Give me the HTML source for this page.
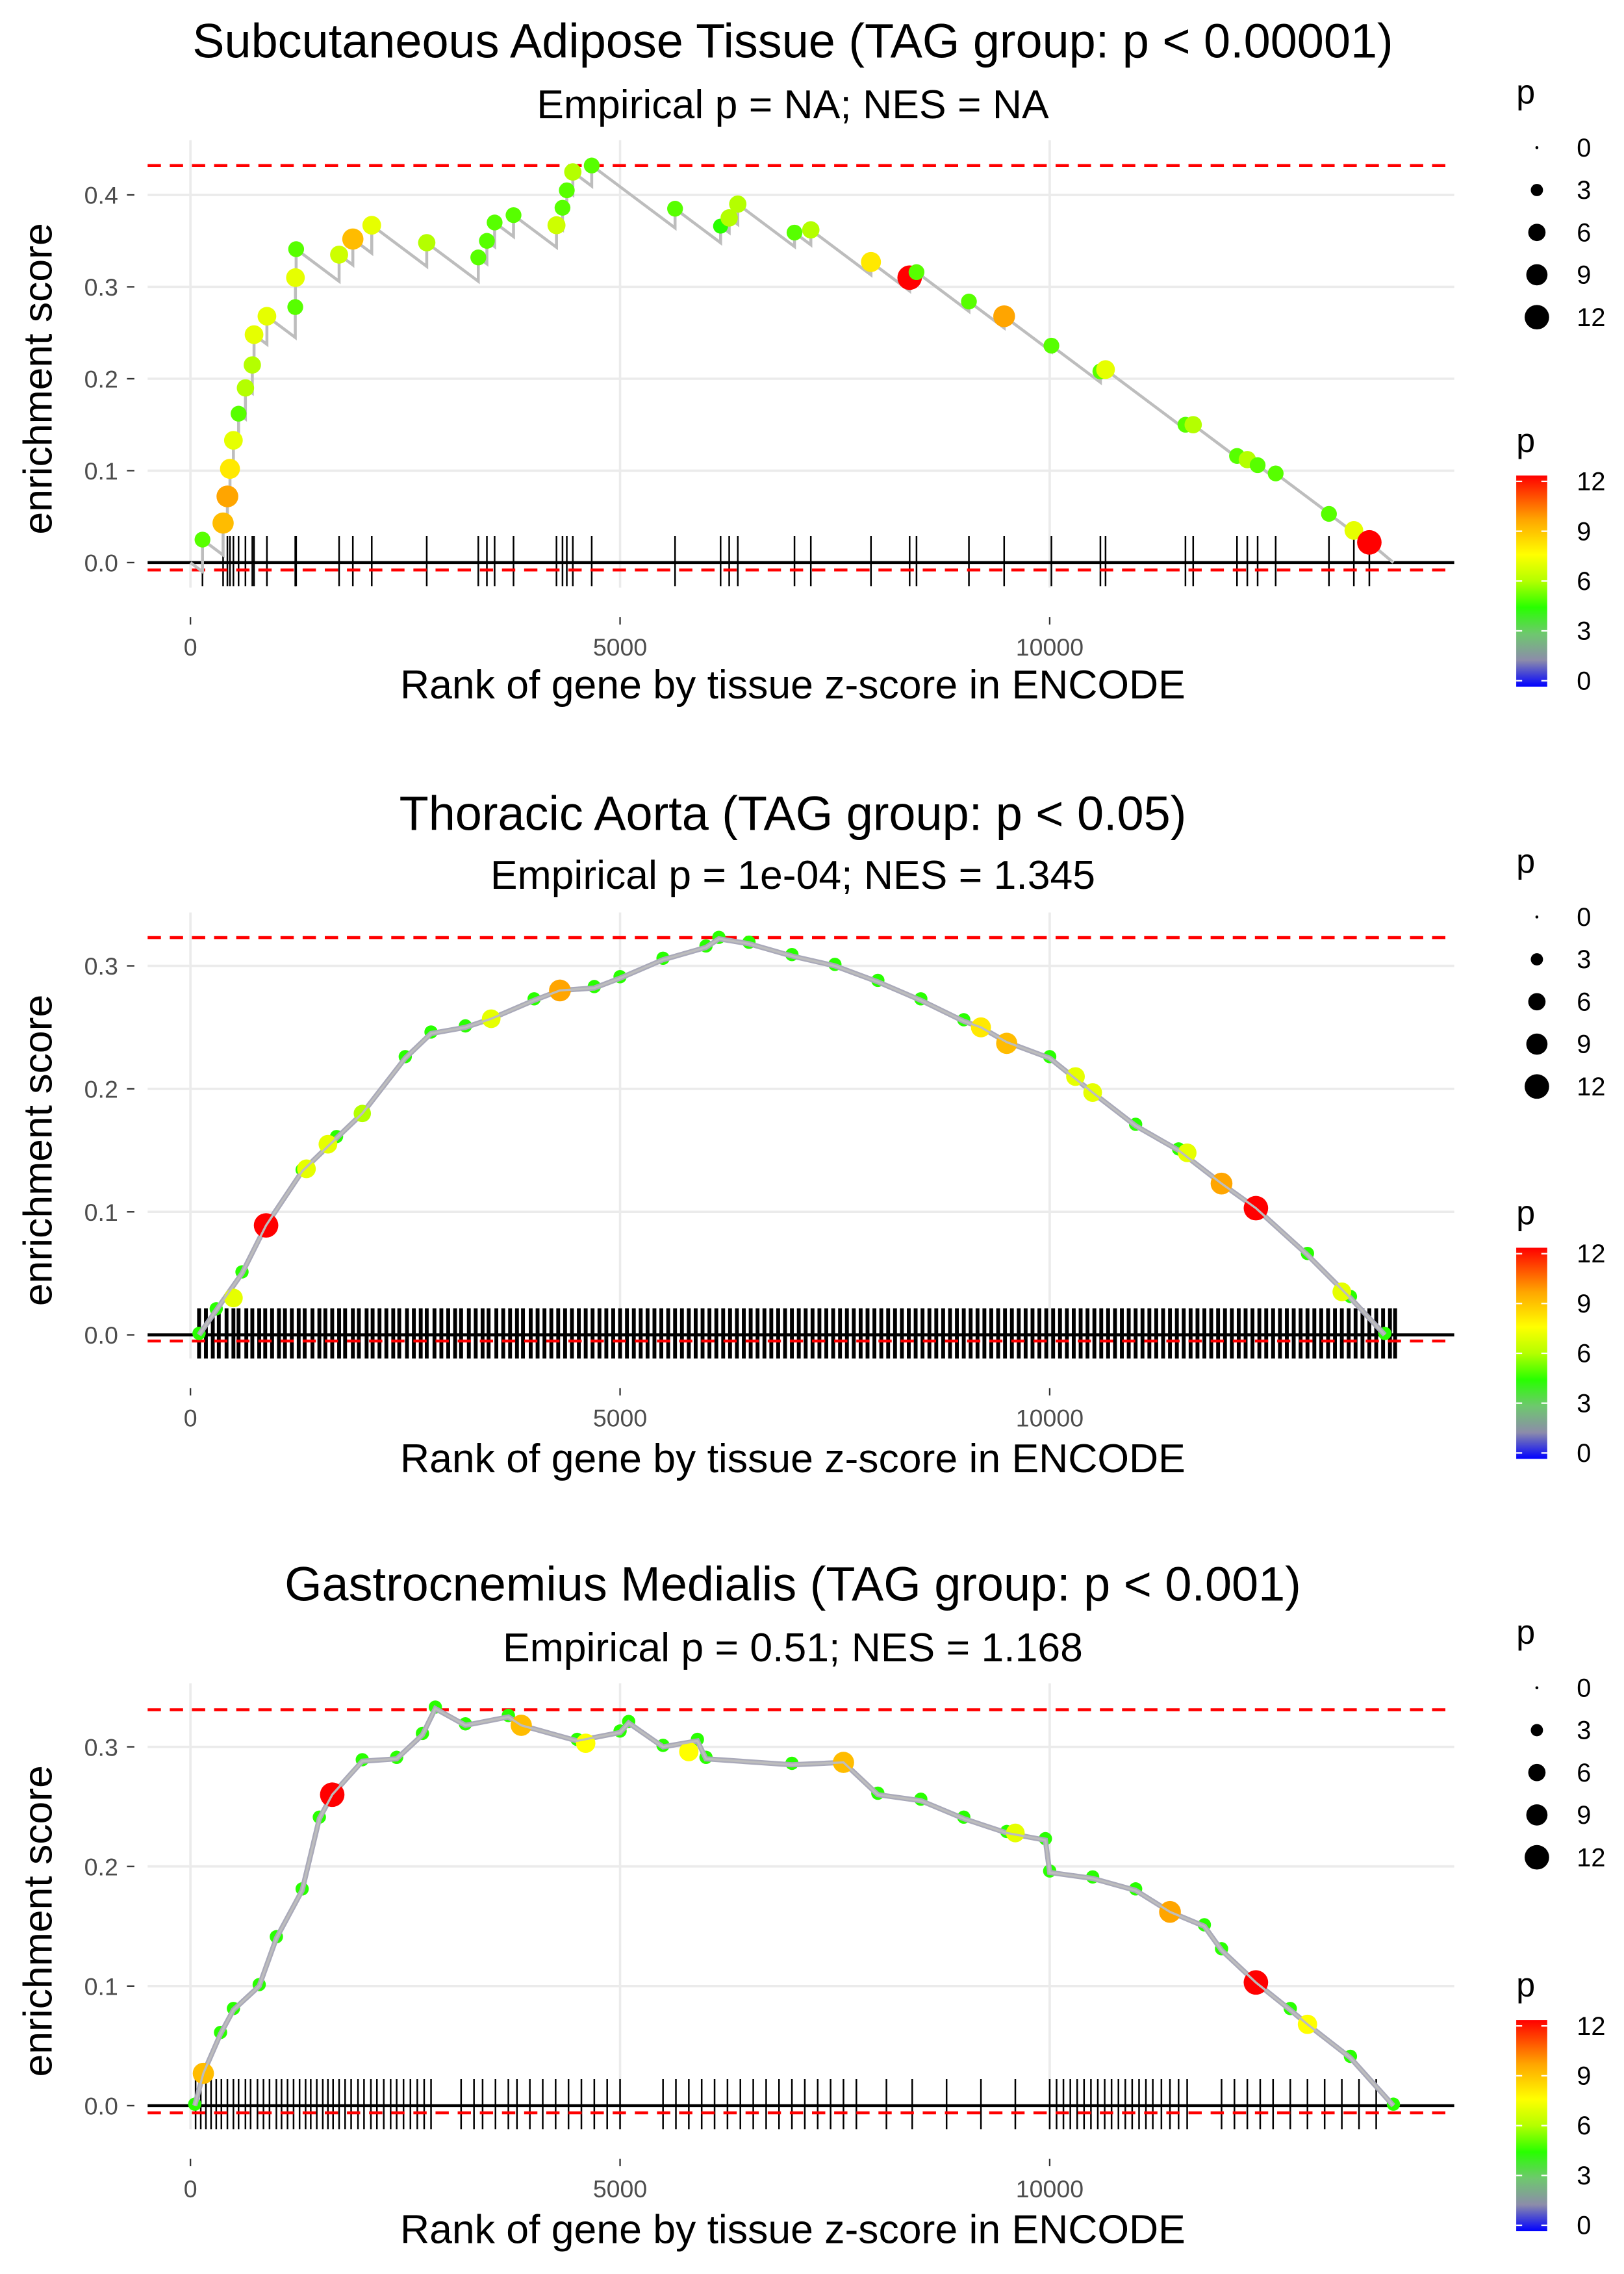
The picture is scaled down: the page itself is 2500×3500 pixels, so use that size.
<!DOCTYPE html>
<html><head><meta charset="utf-8"><style>
html,body{margin:0;padding:0;background:#fff;}
svg{display:block;font-family:"Liberation Sans",sans-serif;}
</style></head><body>
<svg id="chart" width="2500" height="3500" viewBox="0 0 1100 1540" preserveAspectRatio="none" xmlns="http://www.w3.org/2000/svg"></svg>
<script>
// ---------- Panel 1 data ----------
const p1Ranks=[140,380,430,460,500,560,640,720,740,890,1220,1222,1230,1730,1890,2110,2750,3350,3450,3540,3760,4260,4330,4380,4450,4670,5640,6170,6270,6370,7030,7220,7920,8370,8450,9060,9470,10020,10590,10650,11580,11670,12180,12300,12420,12630,13250,13540,13720];
const p1ES=[0.025,0.043,0.072,0.102,0.133,0.162,0.19,0.215,0.248,0.268,0.278,0.31,0.341,0.335,0.352,0.367,0.348,0.332,0.35,0.37,0.378,0.367,0.386,0.405,0.425,0.432,0.385,0.366,0.375,0.39,0.359,0.362,0.327,0.31,0.316,0.284,0.268,0.236,0.208,0.21,0.15,0.15,0.116,0.112,0.106,0.097,0.053,0.035,0.022];
const p1P=[5,9,9.5,8,7,5,6,6,7,7,5,7,5,6.5,9,7,6,5,5,5,5,6.5,5,5,6,5,5,4.5,6,6,5,6,8,12,5,5,9.5,5,5,7,5,6,5,6,5,5,5,7,12];
// ---------- Panel 2 data ----------
const p2CurveRanks=[100,300,600,880,1300,1700,2000,2500,2800,3200,3500,4000,4300,4700,5000,5500,6000,6150,6500,7000,7500,8000,8500,9000,9200,9500,10000,10500,11000,11500,12000,12400,13000,13500,13900];
const p2CurveES=[0.0,0.02,0.05,0.089,0.133,0.16,0.18,0.225,0.245,0.25,0.257,0.272,0.28,0.282,0.29,0.305,0.315,0.322,0.318,0.308,0.3,0.287,0.272,0.255,0.25,0.238,0.225,0.197,0.17,0.15,0.123,0.103,0.065,0.03,0.0];
const p2PointRanks=[500,880,1350,1600,2000,3500,4300,9200,9500,10300,10500,11600,12000,12400,13400];
const p2PointES=[0.03,0.089,0.135,0.155,0.18,0.257,0.28,0.25,0.237,0.21,0.197,0.148,0.123,0.103,0.035];
const p2PointP=[7,12,7,7,6,7,9.5,8,9,7,7,7,9.5,12,7];
const p2Hits=[100,180,260,330,420,500,560,650,720,800,870,950,1030,1100,1180,1260,1330,1420,1500,1570,1650,1730,1800,1890,1960,2050,2120,2200,2280,2360,2430,2520,2600,2680,2750,2840,2920,3000,3080,3150,3240,3320,3400,3470,3560,3640,3720,3800,3870,3960,4040,4120,4200,4280,4360,4440,4520,4600,4680,4760,4840,4920,5000,5080,5160,5240,5320,5400,5480,5560,5640,5720,5800,5880,5960,6040,6120,6200,6280,6360,6440,6520,6600,6680,6760,6840,6920,7000,7080,7160,7240,7320,7400,7480,7560,7640,7720,7800,7880,7960,8040,8120,8200,8280,8360,8440,8520,8600,8680,8760,8840,8920,9000,9080,9160,9240,9320,9400,9480,9560,9640,9720,9800,9880,9960,10040,10120,10200,10280,10360,10440,10520,10600,10680,10760,10840,10920,11000,11080,11160,11240,11320,11400,11480,11560,11640,11720,11800,11880,11960,12040,12120,12200,12280,12360,12440,12520,12600,12680,12760,12840,12920,13000,13080,13160,13240,13320,13400,13480,13560,13640,13720,13800,13880,13960,14020];
// ---------- Panel 3 data ----------
const p3CurveRanks=[50,150,350,500,800,1000,1300,1500,1650,2000,2400,2700,2850,3200,3700,3850,4500,5000,5100,5500,5900,6000,7000,7600,8000,8500,9000,9500,9950,10000,10500,11000,11400,11800,12000,12400,12800,13000,13500,14000];
const p3CurveES=[0.0,0.027,0.06,0.08,0.1,0.14,0.18,0.24,0.26,0.288,0.29,0.31,0.332,0.318,0.325,0.318,0.305,0.312,0.32,0.3,0.305,0.29,0.285,0.287,0.26,0.255,0.24,0.228,0.222,0.195,0.19,0.18,0.162,0.15,0.13,0.103,0.08,0.068,0.04,0.0];
const p3PointRanks=[150,1650,3850,4600,5800,7600,9600,11400,12400,13000];
const p3PointES=[0.027,0.26,0.318,0.303,0.296,0.287,0.228,0.162,0.103,0.068];
const p3PointP=[9,12,9,7.5,7.5,9,7,9.5,12,7.5];
const p3Hits=[60,120,180,240,300,360,430,500,560,640,700,780,850,920,1000,1060,1130,1200,1270,1340,1400,1470,1540,1600,1660,1730,1800,1870,1950,2020,2100,2170,2250,2330,2400,2480,2560,2640,2720,2800,3150,3300,3400,3550,3700,3800,3950,4100,4250,4400,4550,4700,4850,5000,5500,5650,5800,5950,6100,6250,6400,6550,6700,6850,7000,7150,7300,7450,7600,7750,8100,8400,8800,9200,9600,10000,10080,10160,10240,10320,10400,10480,10560,10640,10720,10800,10880,10960,11040,11120,11200,11300,11400,11500,11600,12000,12150,12300,12450,12600,12800,13000,13200,13400,13600,13800];
// ---------- Axis ticks ----------
const xTickVals=[0,5000,10000];
const xTickLabels=["0","5000","10000"];
const p1YTicks=[0,0.1,0.2,0.3,0.4];
const p23YTicks=[0,0.1,0.2,0.3];
const yTickLabels=["0.0","0.1","0.2","0.3","0.4"];
const sizeLegendVals=[0,3,6,9,12];

const svg=document.getElementById('chart');
const NS="http://www.w3.org/2000/svg";
function mk(tag,attrs,parent){const e=document.createElementNS(NS,tag);for(const k in attrs)e.setAttribute(k,attrs[k]);(parent||svg).appendChild(e);return e;}
const xs=r=>129+r*0.0582;
function pColor(p){
  const st=[[0,[0,0,255]],[1.5,[140,140,170]],[3,[110,200,110]],[4.5,[40,255,0]],[6,[180,255,0]],[7.5,[255,255,0]],[9.5,[255,165,0]],[12,[255,0,0]]];
  p=Math.max(0,Math.min(12,p));
  for(let i=0;i<st.length-1;i++){if(p<=st[i+1][0]){const t=(p-st[i][0])/(st[i+1][0]-st[i][0]);const c=st[i][1].map((v,j)=>Math.round(v+(st[i+1][1][j]-v)*t));return `rgb(${c[0]},${c[1]},${c[2]})`;}}
  return 'rgb(255,0,0)';
}
const pRad=p=>Math.max(1,8.3*Math.sqrt(p/12));

const panels=[
 {title:"Subcutaneous Adipose Tissue (TAG group: p < 0.00001)",sub:"Empirical p = NA; NES = NA",titleY:27,subY:70,xlabY:463,zero:381,per:62.25,top:95,bottom:398,yt:p1YTicks,maxES:0.432,minES:-0.008,legTop:62,barTop:322},
 {title:"Thoracic Aorta (TAG group: p < 0.05)",sub:"Empirical p = 1e-04; NES = 1.345",titleY:550,subY:592,xlabY:987,zero:904,per:83.3,top:618,bottom:920,yt:p23YTicks,maxES:0.323,minES:-0.005,legTop:583,barTop:845},
 {title:"Gastrocnemius Medialis (TAG group: p < 0.001)",sub:"Empirical p = 0.51; NES = 1.168",titleY:1072,subY:1115,xlabY:1509,zero:1426,per:81,top:1140,bottom:1442,yt:p23YTicks,maxES:0.331,minES:-0.006,legTop:1105,barTop:1368}
];

const defs=mk('defs',{});
const grad=mk('linearGradient',{id:'pgrad',x1:0,y1:1,x2:0,y2:0},defs);
for(let i=0;i<=24;i++){mk('stop',{offset:(i/24),'stop-color':pColor(i/2)},grad);}

panels.forEach((P,pi)=>{
  const g=mk('g',{});
  
  
  const ys=v=>P.zero-v*P.per*10;
  P.yt.forEach(v=>{const l=mk('line',{x1:100,x2:985,y1:ys(v),y2:ys(v),stroke:'#ebebeb','stroke-width':1.6},g);});
  xTickVals.forEach(v=>{const l=mk('line',{x1:xs(v),x2:xs(v),y1:P.top,y2:P.bottom,stroke:'#ebebeb','stroke-width':1.6},g);});
  P.yt.forEach((v,i)=>{
    mk('line',{x1:86,x2:91,y1:ys(v),y2:ys(v),stroke:'#333','stroke-width':1},g);
    const t=mk('text',{x:80,y:ys(v)+6,'text-anchor':'end','font-size':16.5,fill:'#4d4d4d'},g);t.textContent=yTickLabels[i];
    
  });
  xTickVals.forEach((v,i)=>{
    mk('line',{x1:xs(v),x2:xs(v),y1:P.bottom+20,y2:P.bottom+25,stroke:'#333','stroke-width':1},g);
    const t=mk('text',{x:xs(v),y:P.bottom+46,'text-anchor':'middle','font-size':16.5,fill:'#4d4d4d'},g);t.textContent=xTickLabels[i];
    
  });
  let t=mk('text',{x:537,y:P.titleY+12,'text-anchor':'middle','font-size':32.5,fill:'#000'},g);t.textContent=P.title;
  
  t=mk('text',{x:537,y:P.subY+10,'text-anchor':'middle','font-size':27.5,fill:'#000'},g);t.textContent=P.sub;
  
  t=mk('text',{x:537,y:P.xlabY+10,'text-anchor':'middle','font-size':27.5,fill:'#000'},g);t.textContent="Rank of gene by tissue z-score in ENCODE";
  
  const cy=(P.top+P.bottom)/2+10;
  t=mk('text',{x:0,y:0,'text-anchor':'middle','font-size':27.5,fill:'#000',transform:`translate(35,${cy}) rotate(-90)`},g);t.textContent="enrichment score";
  

  const hits=pi===0?p1Ranks:(pi===1?p2Hits:p3Hits);
  const sw=pi===1?2.6:1.1;
  hits.forEach(r=>{const l=mk('line',{x1:xs(r),x2:xs(r),y1:P.zero-18,y2:P.zero+16,stroke:'#000','stroke-width':sw},g);});
  let l=mk('line',{x1:100,x2:985,y1:ys(0),y2:ys(0),stroke:'#000','stroke-width':2},g);
  
  [P.maxES,P.minES].forEach(v=>{const d=mk('line',{x1:100,x2:985,y1:ys(v),y2:ys(v),stroke:'#ff0000','stroke-width':2,'stroke-dasharray':'9 6'},g);});

  if(pi===0){
    const slope=7e-5;
    let pts=[[xs(0),ys(0)]];let prevR=0,prevE=0;
    p1Ranks.forEach((r,i)=>{const low=prevE-slope*(r-prevR);pts.push([xs(r),ys(low)]);pts.push([xs(r),ys(p1ES[i])]);prevR=r;prevE=p1ES[i];});
    pts.push([xs(14000),ys(0)]);
    const pl=mk('polyline',{points:pts.map(p=>p.join(',')).join(' '),fill:'none',stroke:'#bdbdbd','stroke-width':2},g);
    
    p1Ranks.forEach((r,i)=>{const c=mk('circle',{cx:xs(r),cy:ys(p1ES[i]),r:pRad(p1P[i]),fill:pColor(p1P[i])},g);});
  } else {
    const cr=pi===1?p2CurveRanks:p3CurveRanks, ce=pi===1?p2CurveES:p3CurveES;
    const pr=pi===1?p2PointRanks:p3PointRanks, pe=pi===1?p2PointES:p3PointES, pp=pi===1?p2PointP:p3PointP;
    cr.forEach((r,i)=>{const c=mk('circle',{cx:xs(r),cy:ys(ce[i])-1,r:4.5,fill:pColor(4.5)},g);});
    const pl=mk('polyline',{points:cr.map((r,i)=>xs(r)+','+ys(ce[i])).join(' '),fill:'none',stroke:'#a9a9b9','stroke-width':3.5},g);
    
    pr.forEach((r,i)=>{const c=mk('circle',{cx:xs(r),cy:ys(pe[i]),r:pRad(pp[i]),fill:pColor(pp[i])},g);});
    mk('polyline',{points:cr.map((r,i)=>xs(r)+','+ys(ce[i])).join(' '),fill:'none',stroke:'#bdbdbd','stroke-width':1.5},g);
  }

  const lg=mk('g',{},g);
  t=mk('text',{x:1027,y:P.legTop+8,'font-size':23,fill:'#000'},lg);t.textContent='p';
  sizeLegendVals.forEach((v,i)=>{
    const y=P.legTop+38+i*28.7;
    mk('circle',{cx:1041,cy:y,r:pRad(v),fill:'#000'},lg);
    const tt=mk('text',{x:1068,y:y+6,'font-size':17.5,fill:'#000'},lg);tt.textContent=String(v);
    
  });
  const cg=mk('g',{},g);
  t=mk('text',{x:1027,y:P.barTop-16,'font-size':23,fill:'#000'},cg);t.textContent='p';
  const bh=143;
  mk('rect',{x:1027,y:P.barTop,width:21,height:bh,fill:'url(#pgrad)'},cg);
  [0,3,6,9,12].forEach(v=>{
    const y=P.barTop+bh-4-v/12*(bh-8);
    mk('line',{x1:1027,x2:1031,y1:y,y2:y,stroke:'#fff','stroke-width':1},cg);
    mk('line',{x1:1044,x2:1048,y1:y,y2:y,stroke:'#fff','stroke-width':1},cg);
    const tt=mk('text',{x:1068,y:y+6,'font-size':17.5,fill:'#000'},cg);tt.textContent=String(v);
    
  });
});
</script>
</body></html>
